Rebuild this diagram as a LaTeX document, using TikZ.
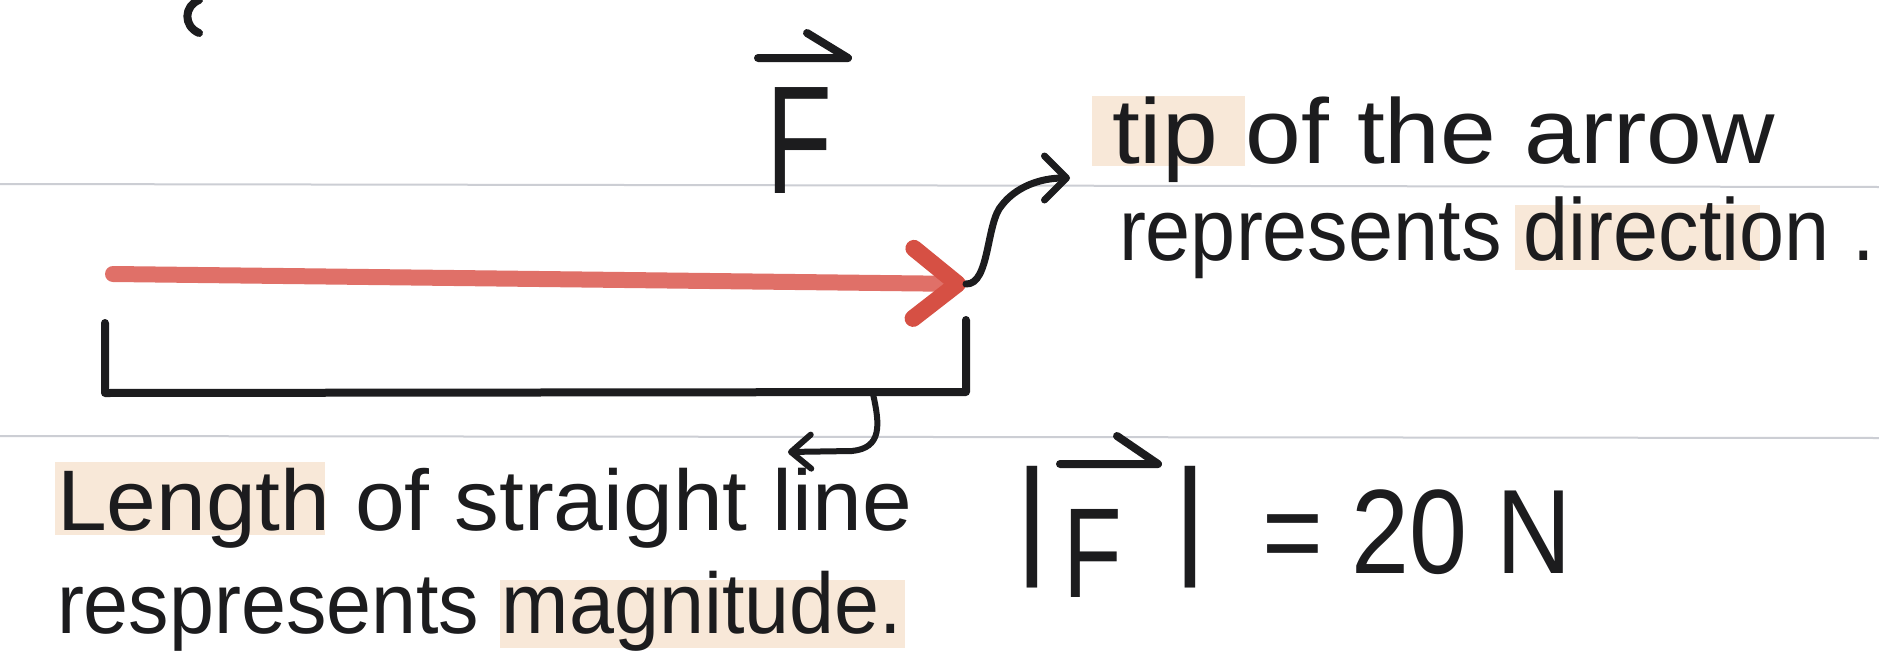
\documentclass[tikz,border=0pt]{standalone}
\usepackage{fontspec}
\setmainfont{Liberation Sans}
\usepackage{graphicx}
\usetikzlibrary{arrows.meta}
\definecolor{ink}{RGB}{28,28,30}
\definecolor{rulegray}{RGB}{204,206,212}
\definecolor{redshaft}{RGB}{224,112,104}
\definecolor{redhead}{RGB}{214,80,68}
\definecolor{hilite}{RGB}{248,232,216}
\newcommand{\hwt}[3]{\resizebox{#1}{\height}{\fontsize{#2}{#2}\selectfont #3}}
\newcommand{\hws}[3]{\scalebox{#1}[1]{\fontsize{#2}{#2}\selectfont #3}}
\begin{document}
\begin{tikzpicture}[x=1pt,y=-1pt,
  txt/.style={inner sep=0pt, outer sep=0pt, text=ink, anchor=base west},
  pen/.style={draw=ink, line width=7pt, line cap=round, line join=round},
  ruled/.style={draw=rulegray, line width=2pt},
  hl/.style={fill=hilite, draw=none},
  redarrow/.style={draw=redshaft, line width=16pt, line cap=round,
    -{Straight Barb[length=44pt,width=70pt,line width=17pt,round,color=redhead]}},
  curvearrow/.style={pen, -{Straight Barb[length=22pt,width=44pt,line width=7pt,round]}},
  hookarrow/.style={pen, line width=6pt, -{Straight Barb[length=20pt,width=34pt,line width=6pt,round]}},
  harp/.style={pen, line width=8pt},
  bracket/.style={pen, line width=8pt}
]
\fill[white] (0,0) rectangle (1879,656);
\useasboundingbox (0,0) rectangle (1879,656);

% faint highlighter marks
\fill[hl] (1092,96) rectangle (1245,166);
\fill[hl] (1515,205) rectangle (1760,270);
\fill[hl] (55,462) rectangle (325,535);
\fill[hl] (500,580) rectangle (905,648);

% ruled lines of the notebook
\draw[ruled] (0,184) -- (1879,187);
\draw[ruled] (0,436) -- (1879,438);

% fragment of the previous line
\draw[pen, line width=8pt] (199,0) .. controls (184,6) and (183,26) .. (199,33);

% title F with vector arrow
\node[txt] (Ft) at (766,193) {\hws{0.7}{154}{F}};
\draw[harp] (758,58) -- (848,58) -- (807,33);

% texts
\node[txt] (tipt) at (1112,163) {\hwt{663pt}{92}{tip of the arrow}};
\node[txt] (rept) at (1119,260) {\hwt{756pt}{88}{represents direction .}};
\node[txt] (lent) at (57,530) {\hwt{855pt}{86}{Length of straight line}};
\node[txt] (magt) at (57,633) {\hwt{845pt}{86}{respresents magnitude.}};

% |F| = 20 N
\node[txt] (barL) at (1015,560) {\fontsize{130}{130}\selectfont |};
\node[txt] (F2) at (1063,597) {\hws{0.75}{128}{F}};
\node[txt] (barR) at (1173,560) {\fontsize{130}{130}\selectfont |};
\node[txt] (eqt) at (1262,573) {\hwt{310pt}{120}{= 20 N}};
\draw[harp] (1060,464) -- (1158,464) -- (1117,436);

% red force arrow
\coordinate (rs) at (113,274);
\coordinate (rtip) at (966,284);
\draw[redarrow] (rs) -- (rtip);

% curved pointer to "tip of the arrow"
\coordinate (tipend) at (1070,178);
\draw[curvearrow] (rtip) .. controls (990,285) and (986,222) .. (1002,205)
  .. controls (1016,187) and (1040,178) .. (tipend);

% length bracket
\coordinate (b1) at (105,323);
\coordinate (b2) at (105,393);
\coordinate (b3) at (966,392);
\coordinate (b4) at (966,320);
\draw[bracket] (b1) -- (b2) -- (b3) -- (b4);

% hook pointer to the text below
\coordinate (hs) at (873,394);
\coordinate (he) at (788,452);
\draw[hookarrow] (hs) .. controls (880,425) and (882,448) .. (852,451) -- (he);
\end{tikzpicture}
\end{document}
